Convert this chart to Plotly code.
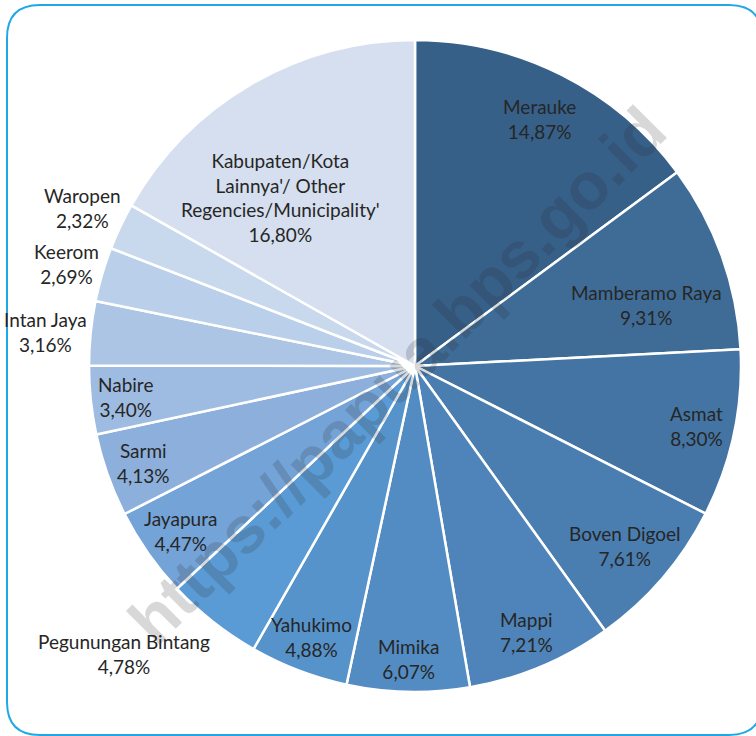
import math
import plotly.graph_objects as go

# ---- data ----
regions = ["Merauke", "Mamberamo Raya", "Asmat", "Boven Digoel", "Mappi", "Mimika",
           "Yahukimo", "Pegunungan Bintang", "Jayapura", "Sarmi", "Nabire",
           "Intan Jaya", "Keerom", "Waropen",
           "Kabupaten/Kota<br>Lainnya'/ Other<br>Regencies/Municipality'"]
shares = [14.87, 9.31, 8.30, 7.61, 7.21, 6.07, 4.88, 4.78, 4.47, 4.13, 3.40,
          3.16, 2.69, 2.32, 16.80]

# ---- style ----
colors = ["#376089", "#3F6C96", "#4474A3", "#4A7DB0", "#4E84B9", "#528CC2",
          "#5793CB", "#5B9BD5", "#74A3D8", "#8CB0DB", "#9EBCE2", "#ADC5E5",
          "#BACFEA", "#C8D8ED", "#D5DFEF"]

W, H = 756, 736
CX, CY, R = 415, 366, 326    # pixel geometry of the pie
FONT = "Lato"
FS = 19

# label placement: fraction of radius and angular offset (deg)
label_r = [0.85, 0.733, 0.883, 0.848, 0.883, 0.90, 0.89, 1.254, 0.88, 0.885,
           0.894, 1.138, 1.115, 1.13, 0.66]
label_dt = [0, 5, 0, 0, 0, 0, 0, 7, 0, 0, 0, -0.5, 0, 0, -8.4]

def px(x):
    return x / W

def py(y):
    return 1 - y / H

fig = go.Figure()
fig.add_trace(go.Pie(
    values=shares, labels=regions, sort=False, direction="clockwise", rotation=0,
    marker=dict(colors=colors, line=dict(color="white", width=2.5)),
    textinfo="none", hoverinfo="label+percent", showlegend=False,
    domain=dict(x=[px(CX - R), px(CX + R)], y=[py(CY + R), py(CY - R)]),
))

total = sum(shares)
annotations = []

# watermark
annotations.append(dict(
    x=px(397), y=py(375), xref="paper", yref="paper", text="<b>https://papua.bps.go.id</b>",
    showarrow=False, textangle=-45, xanchor="center", yanchor="middle",
    font=dict(family="Liberation Sans", size=66, color="rgba(40,40,40,0.18)"),
))

cum = 0.0
for name, v, rf, dt in zip(regions, shares, label_r, label_dt):
    mid = (cum + v / 2) / total * 360 + dt
    cum += v
    th = math.radians(mid)
    x = CX + rf * R * math.sin(th)
    y = CY - rf * R * math.cos(th)
    txt = name + "<br>" + f"{v:.2f}".replace(".", ",") + "%"
    annotations.append(dict(
        x=px(x), y=py(y), xref="paper", yref="paper", text=txt, showarrow=False,
        xanchor="center", yanchor="middle", align="center",
        font=dict(family=FONT, size=FS, color="#262626"),
    ))

# rounded border
L, T, Rt, B, rad = 7, 5, 762, 735, 33
path = (f"M {px(L+rad)} {py(T)} L {px(Rt-rad)} {py(T)} Q {px(Rt)} {py(T)} {px(Rt)} {py(T+rad)} "
        f"L {px(Rt)} {py(B-rad)} Q {px(Rt)} {py(B)} {px(Rt-rad)} {py(B)} "
        f"L {px(L+rad)} {py(B)} Q {px(L)} {py(B)} {px(L)} {py(B-rad)} "
        f"L {px(L)} {py(T+rad)} Q {px(L)} {py(T)} {px(L+rad)} {py(T)} Z")

fig.update_layout(
    width=W, height=H, margin=dict(l=0, r=0, t=0, b=0),
    paper_bgcolor="white", plot_bgcolor="white",
    annotations=annotations,
    shapes=[dict(type="path", xref="paper", yref="paper", path=path,
                 line=dict(color="#1FA8E6", width=2))],
)
fig.write_html("out.html", config={"displayModeBar": False},
               post_script="document.body.style.margin='0px';")
